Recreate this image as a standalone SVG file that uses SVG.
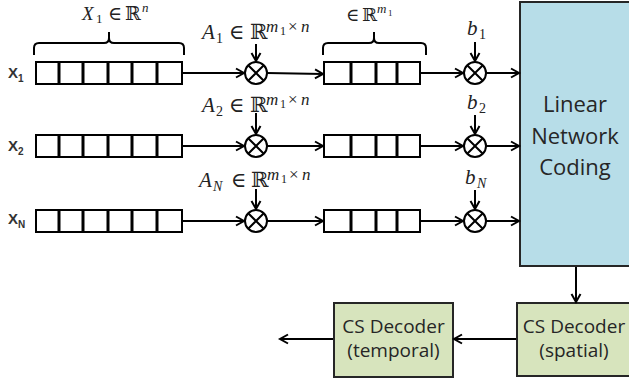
<svg xmlns="http://www.w3.org/2000/svg" width="629" height="384" viewBox="0 0 629 384">
  <defs>
    <marker id="arrow" markerUnits="userSpaceOnUse" markerWidth="12" markerHeight="12" refX="9" refY="6" orient="auto">
      <path d="M1,1.5 L9,6 L1,10.5" fill="none" stroke="#000" stroke-width="2" stroke-linejoin="miter"/>
    </marker>
    <g id="mult">
      <circle cx="0" cy="0" r="11" fill="#fff" stroke="#000" stroke-width="2"/>
      <path d="M-7.8,-7.8 L7.8,7.8 M-7.8,7.8 L7.8,-7.8" stroke="#000" stroke-width="2"/>
    </g>
  </defs>
  <style>
    .reg { fill: #fff; stroke: #000; stroke-width: 2; }
    .cell { stroke: #000; stroke-width: 3; }
    .wire { fill: none; stroke: #000; stroke-width: 2; marker-end: url(#arrow); }
    .brace { fill: none; stroke: #000; stroke-width: 2; }
    .math { font-family: "Liberation Serif", "DejaVu Serif", serif; fill: #222; }
    .it { font-style: italic; }
    .sup { font-size: 17px; }
    .ss { font-size: 12px; }
    .row { font-family: "Liberation Sans", Arial, sans-serif; font-weight: bold; fill: #333; }
    .box { stroke: #262626; stroke-width: 2; }
    .lbl { font-family: "Open Sans", "Liberation Sans", sans-serif; fill: #262626; text-anchor: middle; }
  </style>

  <!-- input signal registers -->
  <g id="x1">
    <text class="row" x="8" y="78" font-size="15">X<tspan font-size="10" dy="4">1</tspan></text>
    <rect class="reg" x="36" y="62" width="146" height="22"/>
    <path class="cell" d="M59,62V84 M83,62V84 M108,62V84 M132,62V84 M157,62V84"/>
  </g>
  <g id="x2">
    <text class="row" x="8" y="151" font-size="15">X<tspan font-size="10" dy="4">2</tspan></text>
    <rect class="reg" x="36" y="135" width="146" height="22"/>
    <path class="cell" d="M59,135V157 M83,135V157 M108,135V157 M132,135V157 M157,135V157"/>
  </g>
  <g id="xN">
    <text class="row" x="8" y="224" font-size="15">X<tspan font-size="10" dy="4">N</tspan></text>
    <rect class="reg" x="36" y="210" width="146" height="22"/>
    <path class="cell" d="M59,210V232 M83,210V232 M108,210V232 M132,210V232 M157,210V232"/>
  </g>

  <!-- length annotation over the first input -->
  <g id="brace-n">
    <path class="brace" d="M34,55 L34,48 Q34,43 39,43 L104,43 Q109,43 109,38 L109,32 M109,38 Q109,43 114,43 L179,43 Q184,43 184,48 L184,55"/>
    <text class="math" font-size="19"><tspan class="it" x="82" y="20">X</tspan><tspan x="96" y="23" font-size="13">1</tspan><tspan x="108" y="20">∈</tspan><tspan x="125" y="20">ℝ</tspan><tspan class="it" x="142" y="12" font-size="13">n</tspan></text>
  </g>

  <!-- measurement matrices -->
  <g id="a1">
    <use href="#mult" x="256" y="73"/>
    <text class="math" font-size="21"><tspan class="it" x="202" y="39">A</tspan><tspan x="216" y="43" font-size="14">1</tspan><tspan x="229" y="39">∈</tspan><tspan x="250" y="39">ℝ</tspan><tspan class="it sup" x="266" y="32">m</tspan><tspan class="ss" x="280" y="35">1</tspan><tspan class="sup" x="288" y="32">×</tspan><tspan class="it sup" x="301" y="32">n</tspan></text>
  </g>
  <g id="a2">
    <use href="#mult" x="256" y="146"/>
    <text class="math" font-size="21"><tspan class="it" x="202" y="112">A</tspan><tspan x="216" y="116" font-size="14">2</tspan><tspan x="229" y="112">∈</tspan><tspan x="250" y="112">ℝ</tspan><tspan class="it sup" x="266" y="105">m</tspan><tspan class="ss" x="280" y="108">1</tspan><tspan class="sup" x="288" y="105">×</tspan><tspan class="it sup" x="301" y="105">n</tspan></text>
  </g>
  <g id="aN">
    <use href="#mult" x="256" y="221"/>
    <text class="math" font-size="21"><tspan class="it" x="199" y="187">A</tspan><tspan class="it" x="213" y="191" font-size="14">N</tspan><tspan x="231" y="187">∈</tspan><tspan x="251" y="187">ℝ</tspan><tspan class="it sup" x="267" y="180">m</tspan><tspan class="ss" x="281" y="183">1</tspan><tspan class="sup" x="289" y="180">×</tspan><tspan class="it sup" x="302" y="180">n</tspan></text>
  </g>

  <!-- compressed measurement registers -->
  <g id="y1">
    <rect class="reg" x="324" y="62" width="96" height="22"/>
    <path class="cell" d="M351,62V84 M376,62V84 M397,62V84"/>
  </g>
  <g id="y2">
    <rect class="reg" x="324" y="135" width="96" height="22"/>
    <path class="cell" d="M351,135V157 M376,135V157 M397,135V157"/>
  </g>
  <g id="yN">
    <rect class="reg" x="324" y="210" width="96" height="22"/>
    <path class="cell" d="M351,210V232 M376,210V232 M397,210V232"/>
  </g>
  <g id="brace-m">
    <path class="brace" d="M323,55 L323,48 Q323,43 328,43 L369,43 Q374,43 374,38 L374,32 M374,38 Q374,43 379,43 L421,43 Q426,43 426,48 L426,55"/>
    <text class="math" font-size="18"><tspan x="346" y="21">∈</tspan><tspan x="362" y="21">ℝ</tspan><tspan class="it" x="377" y="13" font-size="13">m</tspan><tspan x="388" y="16" font-size="9">1</tspan></text>
  </g>

  <!-- coefficient multipliers -->
  <g id="b1">
    <use href="#mult" x="475" y="73"/>
    <text class="math" font-size="21"><tspan class="it" x="467" y="35">b</tspan><tspan x="479" y="39" font-size="14">1</tspan></text>
  </g>
  <g id="b2">
    <use href="#mult" x="475" y="146"/>
    <text class="math" font-size="21"><tspan class="it" x="467" y="109">b</tspan><tspan x="479" y="113" font-size="14">2</tspan></text>
  </g>
  <g id="bN">
    <use href="#mult" x="475" y="221"/>
    <text class="math" font-size="21"><tspan class="it" x="465" y="184">b</tspan><tspan class="it" x="477" y="188" font-size="14">N</tspan></text>
  </g>

  <!-- processing blocks -->
  <g id="lnc">
    <rect class="box" x="520" y="2" width="120" height="264" fill="#b7dde8"/>
    <text class="lbl" font-size="22"><tspan x="575" y="112">Linear</tspan><tspan x="575" y="143.5">Network</tspan><tspan x="575" y="175">Coding</tspan></text>
  </g>
  <g id="dec-spatial">
    <rect class="box" x="517" y="303" width="120" height="73" fill="#d7e4bd"/>
    <text class="lbl" font-size="19"><tspan x="574" y="333">CS Decoder</tspan><tspan x="574" y="357">(spatial)</tspan></text>
  </g>
  <g id="dec-temporal">
    <rect class="box" x="334" y="303" width="119" height="74" fill="#d7e4bd"/>
    <text class="lbl" font-size="19"><tspan x="393.5" y="333">CS Decoder</tspan><tspan x="393.5" y="357">(temporal)</tspan></text>
  </g>

  <!-- connectors -->
  <g id="connectors">
    <path class="wire" d="M182,73 H244"/>
    <path class="wire" d="M182,146 H244"/>
    <path class="wire" d="M182,221 H244"/>
    <path class="wire" d="M256,44 V61"/>
    <path class="wire" d="M256,113 V134"/>
    <path class="wire" d="M256,189 V209"/>
    <path class="wire" d="M267,73 L323,74"/>
    <path class="wire" d="M267,146 H323"/>
    <path class="wire" d="M267,221 H323"/>
    <path class="wire" d="M420,73 H463"/>
    <path class="wire" d="M420,146 H463"/>
    <path class="wire" d="M420,221 H463"/>
    <path class="wire" d="M475,42 V61"/>
    <path class="wire" d="M475,115 V134"/>
    <path class="wire" d="M475,190 V209"/>
    <path class="wire" d="M486,73 H519"/>
    <path class="wire" d="M486,146 H519"/>
    <path class="wire" d="M486,221 H519"/>
    <path class="wire" d="M576,267 V302"/>
    <path class="wire" d="M516,339 H454"/>
    <path class="wire" d="M333,339 H280"/>
  </g>
</svg>
